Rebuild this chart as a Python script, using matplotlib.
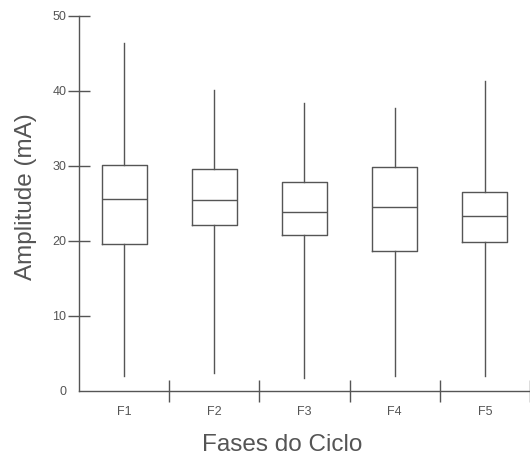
import matplotlib.pyplot as plt

plt.rcParams['font.family'] = ['Liberation Sans', 'DejaVu Sans']

# valores (mA)
fases = ['F1', 'F2', 'F3', 'F4', 'F5']
minimo = [2.0, 2.4, 1.7, 2.0, 2.0]
q1 = [19.6, 22.1, 20.8, 18.7, 19.9]
mediana = [25.6, 25.4, 23.8, 24.5, 23.3]
q3 = [30.1, 29.6, 27.9, 29.8, 26.5]
maximo = [46.4, 40.1, 38.3, 37.7, 41.3]

cor = '#555555'
lw = 1.0

stats = []
for i in range(len(fases)):
    stats.append({'label': fases[i], 'whislo': minimo[i], 'q1': q1[i],
                  'med': mediana[i], 'q3': q3[i], 'whishi': maximo[i]})

fig = plt.figure(figsize=(5.30, 4.61), dpi=100)
ax = fig.add_axes([0.149, 0.152, 0.851, 0.814])

posicoes = list(range(1, len(fases) + 1))
ax.bxp(stats, positions=posicoes, widths=0.5, showfliers=False, showcaps=False,
       boxprops=dict(color=cor, linewidth=lw),
       whiskerprops=dict(color=cor, linewidth=lw),
       medianprops=dict(color=cor, linewidth=lw))

ax.set_xlim(0.5, len(fases) + 0.5)
ax.set_ylim(0, 50)

ax.spines['top'].set_visible(False)
ax.spines['right'].set_visible(False)
for s in ['left', 'bottom']:
    ax.spines[s].set_color(cor)
    ax.spines[s].set_linewidth(lw)

# ticks maiores nos limites das categorias, rotulos no centro
ax.set_xticks([p + 0.5 for p in posicoes])
ax.set_xticklabels([])
ax.set_xticks(posicoes, minor=True)
ax.set_xticklabels(fases, minor=True)
ax.tick_params(axis='x', which='major', direction='inout', length=16, width=lw, color=cor)
ax.tick_params(axis='x', which='minor', length=0, pad=11, labelsize=9, labelcolor=cor)

ax.set_yticks([0, 10, 20, 30, 40, 50])
ax.tick_params(axis='y', direction='inout', length=16, width=lw, color=cor,
               labelsize=9, labelcolor=cor, pad=1)
ax.yaxis.get_major_ticks()[0].tick1line.set_visible(False)

ax.set_xlabel('Fases do Ciclo', fontsize=17.5, color=cor)
ax.set_ylabel('Amplitude (mA)', fontsize=17.5, color=cor)
ax.xaxis.set_label_coords(0.45, -0.114)
ax.yaxis.set_label_coords(-0.093, 0.517)

plt.savefig('out.png', dpi=100)
